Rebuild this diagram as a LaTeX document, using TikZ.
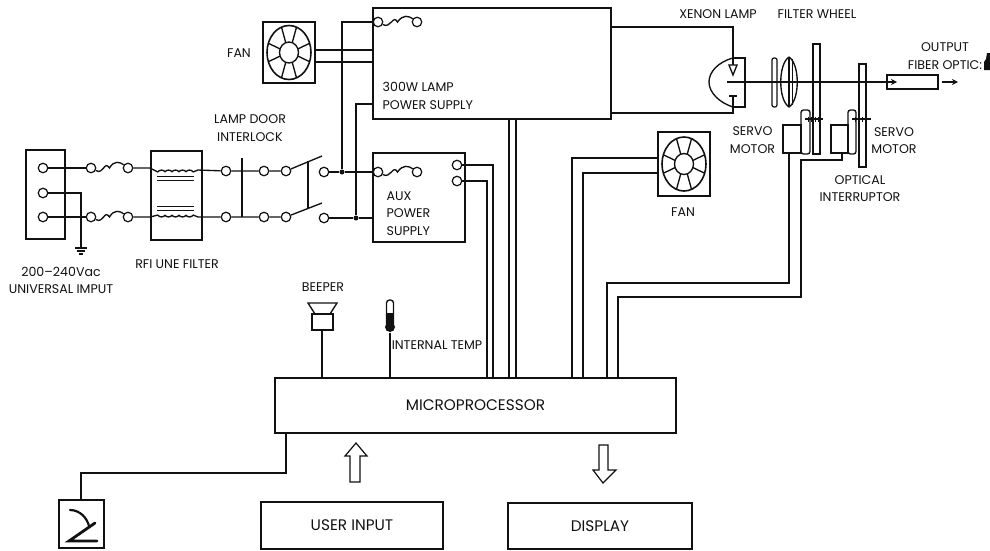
\documentclass[tikz,border=0pt]{standalone}
\usepackage{fontspec}
\setmainfont{Poppins}
\usepackage{xcolor}
\usepackage{tikz}
\usetikzlibrary{arrows.meta,calc}
\definecolor{ink}{HTML}{111111}

\begin{document}
\begin{tikzpicture}[x=1pt,y=-1pt,line width=1.35pt,draw=ink,
    box/.style   = {draw,inner sep=0pt,outer sep=0pt,anchor=north west},
    bigtext/.style = {font=\fontsize{15.3}{18}\selectfont,text=ink},
    term/.style  = {draw,fill=white,circle,inner sep=0pt,minimum size=9.5pt,line width=1.2pt},
    dot/.style   = {fill=ink,circle,inner sep=0pt,minimum size=5pt},
    lbl/.style   = {font=\fontsize{12.6}{17.4}\selectfont,inner sep=0pt,text=ink,align=center},
    fleche/.style= {-{Stealth[length=6pt,width=6pt]}},
  ]
  \useasboundingbox (0,0) rectangle (990,550);

  % ── Boxes ─────────────────────────────────────────────────────────────────
  \node[box,minimum width=39pt,minimum height=89pt]   (inbox)   at (26,150)  {};
  \node[box,minimum width=51pt,minimum height=89pt]   (rfibox)  at (151,151) {};
  \node[box,minimum width=238pt,minimum height=111pt] (lampbox) at (373,8)   {};
  \node[box,minimum width=92pt,minimum height=89pt]   (auxbox)  at (373,153) {};
  \node[box,minimum width=52pt,minimum height=61pt]   (fanA)    at (263,22)  {};
  \node[box,minimum width=52pt,minimum height=64pt]   (fanB)    at (658,132) {};
  \node[box,bigtext,minimum width=401pt,minimum height=55pt] (micro)   at (275,378) {MICROPROCESSOR};
  \node[box,bigtext,minimum width=182pt,minimum height=47pt] (userbox) at (261,502) {USER INPUT};
  \node[box,bigtext,minimum width=184pt,minimum height=46pt] (dispbox) at (508,503) {DISPLAY};
  \node[box,minimum width=45pt,minimum height=48pt]   (keybox)  at (59,500)  {};

  % ── Fans ──────────────────────────────────────────────────────────────────
  \foreach \f in {fanA,fanB} {
    \draw[line width=1.6pt] (\f.center) ellipse [x radius=22pt,y radius=27pt];
    \draw (\f.center) ellipse [x radius=9.5pt,y radius=10.5pt];
    \foreach \a in {20,70,110,160,200,250,290,340}
      \draw ($(\f.center)+(\a:9.5 and 10.5)$) -- ($(\f.center)+(\a:22 and 27)$);
  }

  % ── Terminals ─────────────────────────────────────────────────────────────
  \foreach \n/\x/\y in {inL/43/168,inE/43/193,inN/43/217,
                        fuAl/91/168,fuAr/128/168,fuBl/91/217,fuBr/128/217,
                        doorAa/226/171,doorAb/264/171,doorAc/286/171,
                        doorBa/226/217,doorBb/264/217,doorBc/286/217,
                        swA/324/172,swB/324/218,
                        lampfuL/378/22,lampfuR/417/22,auxfuL/378/172,auxfuR/417/172,
                        auxoutA/457/165,auxoutB/457/181}
    \node[term] (\n) at (\x,\y) {};

  % ── Microprocessor pins ───────────────────────────────────────────────────
  \foreach \n/\x in {beep/322,temp/390,auxA/493,auxB/487,lampA/509,lampB/516,
                     fanAp/572,fanBp/583,servoA/607,servoB/618}
    \coordinate (pin\n) at (\x,378);

  % ── Mains input and line filter ───────────────────────────────────────────
  \draw (inL) -- (fuAl);
  \draw (inN) -- (fuBl);
  \foreach \a/\b in {fuAl/fuAr,fuBl/fuBr,lampfuL/lampfuR,auxfuL/auxfuR}
    \draw (\a) .. controls ($(\a)+(13,7)$) and ($(\b)+(-24,-8)$) .. ($(\a)!0.5!(\b)$)
               .. controls ($(\b)+(-14,-8)$) and ($(\b)+(-8,-6)$) .. (\b);
  \coordinate (gndtop) at (81,248);
  \draw (inE) -| (gndtop);
  \draw (75,248) -- (87,248) (77,251) -- (85,251) (79,254) -- (83,254);

  \coordinate (coilAl) at (158,172);
  \coordinate (coilAr) at (193,172);
  \coordinate (coilBl) at (158,215);
  \coordinate (coilBr) at (193,215);
  \draw (fuAr) -- (150,168) -- (coilAl);
  \draw (fuBr) -- (150,217) -- (coilBl);
  \draw (coilAr) -- (198,170) -- (doorAa);
  \draw (coilBr) -- (198,217) -- (doorBa);
  \foreach \k in {0,...,4} {
    \draw (158+7*\k,172) to[bend left=70] (165+7*\k,172);
    \draw (158+7*\k,215) to[bend right=70] (165+7*\k,215);
  }
  \foreach \y in {176.5,180,206.5,210}
    \draw[line width=1pt] (157,\y) -- (194,\y);

  % ── Lamp door interlock and switch ────────────────────────────────────────
  \coordinate (doorT) at (242,158);
  \coordinate (doorB) at (242,217);
  \coordinate (swAtip) at (322,156);
  \coordinate (swBtip) at (322,203);
  \coordinate (linkA) at (308,161);
  \coordinate (linkB) at (308,208);
  \draw (doorT) -- (doorB);
  \draw (doorAa) -- (doorAb) -- (doorAc) -- (swAtip);
  \draw (doorBa) -- (doorBb) -- (doorBc) -- (swBtip);
  \draw (linkA) -- (linkB);

  % ── Supply wiring ─────────────────────────────────────────────────────────
  \node[dot] (nodeA) at (342,172) {};
  \node[dot] (nodeB) at (356,218) {};
  \draw (swA) -- (nodeA) -- (auxfuL);
  \draw (swB) -- (nodeB) -- (nodeB -| auxbox.west);
  \draw (nodeA) |- (lampfuL);
  \draw (nodeB) |- (373,104);
  \coordinate (fanAa) at (315,50);
  \coordinate (fanAb) at (315,62);
  \draw (fanAa) -- (fanAa -| lampbox.west);
  \draw (fanAb) -- (fanAb -| lampbox.west);

  % ── Wires to the microprocessor ───────────────────────────────────────────
  \draw (auxoutA) -| (pinauxA);
  \draw (auxoutB) -| (pinauxB);
  \draw (pinlampA |- lampbox.south) -- (pinlampA);
  \draw (pinlampB |- lampbox.south) -- (pinlampB);
  \coordinate (fanBa) at (658,158);
  \coordinate (fanBb) at (658,173);
  \draw (fanBa) -| (pinfanAp);
  \draw (fanBb) -| (pinfanBp);

  % ── Servo motors and wheels ───────────────────────────────────────────────
  \node[box,minimum width=18pt,minimum height=28pt] (motorA) at (783,125) {};
  \node[box,minimum width=17pt,minimum height=28pt] (motorB) at (831,125) {};
  \draw[rounded corners=2.5pt] (801,154) rectangle (810,110);
  \draw[rounded corners=2.5pt] (848,154) rectangle (856,110);
  \node[box,minimum width=7pt,minimum height=110pt] (wheelA) at (813,44) {};
  \node[box,minimum width=7pt,minimum height=103pt] (wheelB) at (859,64) {};
  \draw[line width=2pt] (805,119) -- (823,119);
  \draw[line width=2pt] (852,119) -- (871,119);
  \foreach \x in {808,811,815,818,855,858,862,865}
    \draw[line width=1pt] (\x,116.5) -- (\x,121.5);
  \coordinate (motorAout) at (789,153);
  \coordinate (motorBout) at (842,153);
  \coordinate (bendA) at (607,283);
  \coordinate (bendB) at (801,160);
  \coordinate (bendC) at (618,297);
  \draw (motorAout) |- (bendA) -- (pinservoA);
  \draw (motorBout) |- (bendB) |- (bendC) -- (pinservoB);

  % ── Xenon lamp and optics ─────────────────────────────────────────────────
  \coordinate (lampT) at (733,58);
  \coordinate (lampB) at (733,107);
  \draw (lampT) -- (745,58) -- (745,107) -- (lampB);
  \draw (lampT) .. controls (718,62) and (709,72) .. (709,82)
                .. controls (709,93) and (720,103) .. (lampB);
  \coordinate (anodeT) at (733,65);
  \coordinate (cathodeT) at (733,96);
  \coordinate (wireA) at (lampbox.east |- 0,27);
  \coordinate (wireB) at (lampbox.east |- 0,113);
  \draw (wireA) -| (anodeT);
  \draw (wireB) -| (cathodeT);
  \draw[fill=white] (729,65) -- (737,65) -- (733,75) -- cycle;
  \draw (729,96) -- (737,96);

  \draw[line width=1.2pt,rounded corners=2pt] (772,58) rectangle (777,107);
  \draw (789,57) .. controls (778,64) and (778,100) .. (789,107)
                 .. controls (800,100) and (800,64) .. (789,57);
  \draw (789,57) -- (789,107) (792.5,59) -- (792.5,105);

  \node[box,minimum width=51pt,minimum height=14pt] (fiber) at (887,75) {};
  \coordinate (axisL) at (727,82);
  \coordinate (axisR) at (897,82);
  \draw[fleche] (axisL) -- (axisR);
  \coordinate (outL) at (942,82);
  \coordinate (outR) at (958,82);
  \draw[fleche] (outL) -- (outR);
  \fill[ink] (984,70) -- (984,62) -- (986,59) -- (987,53) -- (990,53) -- (990,70) -- cycle;

  % ── Beeper and temperature sensor ─────────────────────────────────────────
  \node[box,minimum width=21pt,minimum height=16pt] (beeper) at (312,314) {};
  \draw (beeper.north west) ++(3,0) -- (308,303) -- (337,303) -- (330,314);
  \draw (beeper.south -| pinbeep) -- (pinbeep);
  \node[circle,fill=ink,inner sep=0pt,minimum size=10pt] (bulb) at (390,327) {};
  \draw[rounded corners=3pt] (386.5,324) -- (386.5,300) -- (393.5,300) -- (393.5,324);
  \fill[ink] (386.5,313) rectangle (393.5,325);
  \draw (bulb) -- (pintemp);

  % ── Keypad switch and user arrows ─────────────────────────────────────────
  \coordinate (keyout) at (286,433);
  \coordinate (keyin) at (81,500);
  \coordinate (keybend) at (286,473);
  \draw (keyout) -- (keybend) -| (keyin);
  \draw[line width=2.2pt,line cap=round] (70,510) .. controls (80,510) and (87,518) .. (89,526);
  \draw[line width=2.8pt,line cap=round] (95,523) -- (69,541) -- (97,541);

  \draw[line width=1.2pt,fill=white] (356,443) -- (367,456) -- (360,456) -- (360,482)
    -- (350,482) -- (350,456) -- (345,456) -- cycle;
  \draw[line width=1.2pt,fill=white] (603,483) -- (616,470) -- (608,470) -- (608,445)
    -- (599,445) -- (599,470) -- (593,470) -- cycle;

  % ── Labels ────────────────────────────────────────────────────────────────
  \node[lbl] (lblinput) at (61,280.5) {200--240Vac\\UNIVERSAL IMPUT};
  \node[lbl] (lblrfi)   at (177,264)  {RFI UNE FILTER};
  \node[lbl] (lbldoor)  at (250,128)  {LAMP DOOR\\INTERLOCK};
  \node[lbl] (lblfanA)  at (239,53)   {FAN};
  \node[lbl] (lblfanB)  at (683,212)  {FAN};
  \node[lbl,anchor=west,align=left] (lbllamp) at (382,96)  {300W LAMP\\POWER SUPPLY};
  \node[lbl,anchor=west,align=left] (lblaux)  at (386,213.5) {AUX\\POWER\\SUPPLY};
  \node[lbl] (lblxenon)  at (718,14)  {XENON LAMP};
  \node[lbl] (lblwheel)  at (817,14)  {FILTER WHEEL};
  \node[lbl] (lblfiber)  at (945,56)  {OUTPUT\\FIBER OPTIC:};
  \node[lbl] (lblservoA) at (752.5,140) {SERVO\\MOTOR};
  \node[lbl] (lblservoB) at (894,140.5) {SERVO\\MOTOR};
  \node[lbl] (lblopt)    at (860,188.5) {OPTICAL\\INTERRUPTOR};
  \node[lbl] (lblbeep)   at (323,287) {BEEPER};
  \node[lbl] (lbltemp)   at (437,345) {INTERNAL TEMP};
\end{tikzpicture}
\end{document}
